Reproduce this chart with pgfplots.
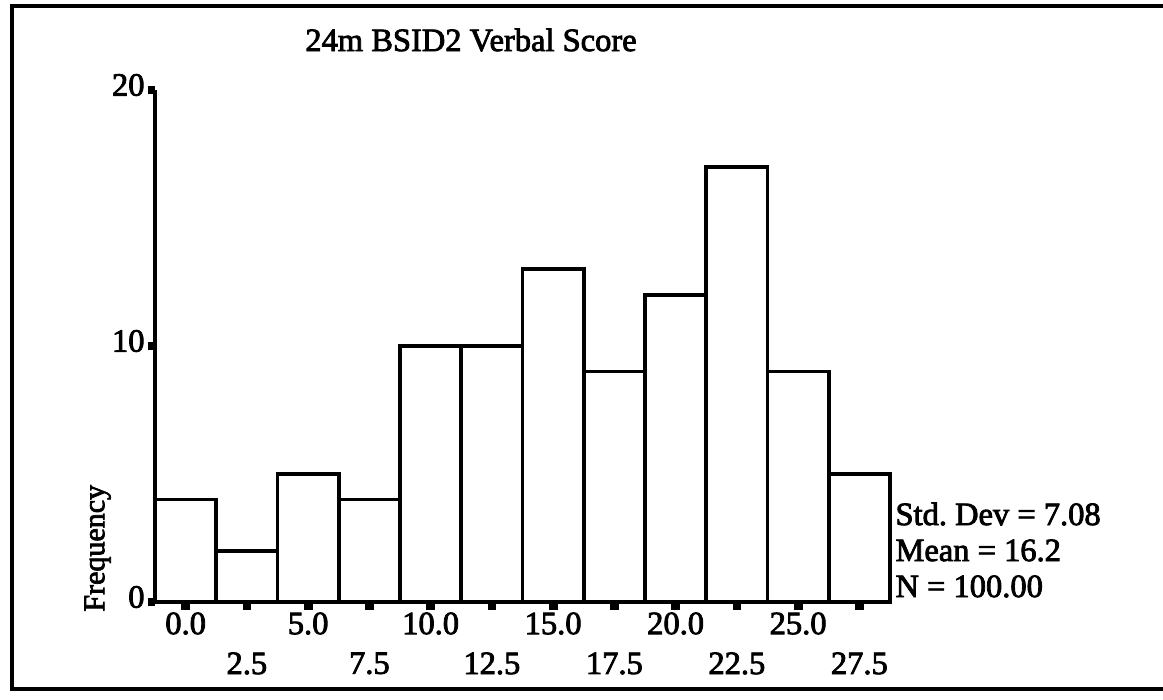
\documentclass[border=0pt]{standalone}
\usepackage{fontspec}
\setmainfont{Liberation Serif}[FakeBold=2.5]
\usepackage{pgfplots}
\pgfplotsset{compat=1.18}
\begin{document}
\frenchspacing
\begin{tikzpicture}
\useasboundingbox (0,0) rectangle (465.2pt,-280pt);
% outer frame (no right edge in the scan)
\draw[line width=1.6pt] (465.2pt,-2.4pt) -- (4.8pt,-2.4pt) -- (4.8pt,-275.6pt) -- (465.2pt,-275.6pt);
\begin{axis}[
    at={(62pt,-240.8pt)}, anchor=south west,
    scale only axis, width=294pt, height=204.8pt,
    xmin=-1.25, xmax=28.75, ymin=0, ymax=20,
    clip=false,
    axis lines*=left,
    axis line style={line width=1.5pt},
    ybar, bar width=2.5, bar shift=0pt,
    tick align=outside,
    major tick length=3pt,
    tick style={line width=3.5pt, black},
    xtick={0,5,...,25},
    xticklabels={0.0,5.0,10.0,15.0,20.0,25.0},
    extra x ticks={2.5,7.5,12.5,17.5,22.5,27.5},
    extra x tick labels={2.5,7.5,12.5,17.5,22.5,27.5},
    extra x tick style={xticklabel style={yshift=-16pt}},
    ytick={0,10,20},
    yticklabels={0,10,20},
    tick label style={font=\fontsize{13}{15}\selectfont},
    xticklabel style={inner sep=1pt, yshift=0pt},
    yticklabel style={inner sep=1pt, yshift=2pt},
    ylabel={Frequency},
    ylabel style={at={(axis description cs:-0.078,0.105)}, anchor=center,
        font=\fontsize{12}{14}\selectfont},
]
\addplot[fill=white, draw=black, line width=1.5pt] coordinates {
    (0,4) (2.5,2) (5,5) (7.5,4) (10,10) (12.5,10)
    (15,13) (17.5,9) (20,12) (22.5,17) (25,9) (27.5,5)
};
\node[anchor=west, align=left, inner sep=0pt,
      font=\fontsize{13}{14.4}\selectfont]
    at (axis description cs:1.0068,0.1016)
    {Std. Dev = 7.08\\Mean = 16.2\\N = 100.00};
\end{axis}
% chart title
\node[font=\fontsize{13}{15}\selectfont] at (188.4pt,-16pt) {24m BSID2 Verbal Score};
\end{tikzpicture}
\end{document}
